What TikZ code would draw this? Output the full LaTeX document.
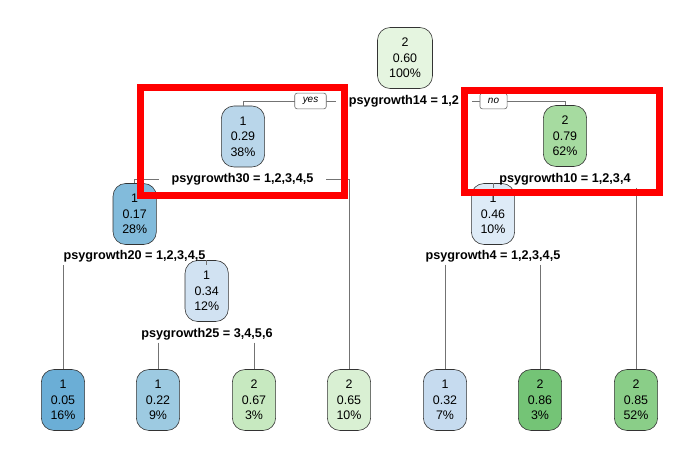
\documentclass[tikz,border=0pt]{standalone}
\usepackage{fontspec}
\setmainfont{Liberation Sans}
\usepackage{xcolor}
\usetikzlibrary{positioning, calc}
\definecolor{pA}{HTML}{6BAED6}
\definecolor{pB}{HTML}{82BBDB}
\definecolor{pC}{HTML}{9DCAE1}
\definecolor{pD}{HTML}{B9D6EA}
\definecolor{pE}{HTML}{C6DBEF}
\definecolor{pF}{HTML}{D1E2F2}
\definecolor{pG}{HTML}{DEEBF7}
\definecolor{gA}{HTML}{E5F5E0}
\definecolor{gB}{HTML}{D9F0D3}
\definecolor{gC}{HTML}{C7E9C0}
\definecolor{gD}{HTML}{A6DBA0}
\definecolor{gE}{HTML}{8ACE88}
\definecolor{gF}{HTML}{74C476}

\begin{document}
\begin{tikzpicture}[x=0.03cm, y=-0.03cm,
  box/.style={draw=black!80, line width=0.5pt, rounded corners=0.38cm, minimum width=1.3cm, minimum height=1.83cm, align=center, inner sep=1pt, font=\fontsize{10.6}{13.4}\selectfont},
  split/.style={font=\fontsize{10.8}{12}\selectfont\bfseries, inner xsep=11pt, inner ysep=2pt},
  conn/.style={draw=black!55, line width=0.6pt},
  yesno/.style={draw=black!60, fill=white, line width=0.5pt, rounded corners=2pt, font=\fontsize{8.5}{9}\selectfont\itshape, inner xsep=0.24cm, minimum height=0.47cm, inner ysep=1pt},
  hilite/.style={draw=red, line width=0.21cm}]
\useasboundingbox (0,0) rectangle (700,459);

% Inner nodes
\node[box, fill=gA, minimum width=1.65cm] (n1) at (405,58) {2\\0.60\\100\%};
\node[box, fill=pD] (n2) at (243,136.5) {1\\0.29\\38\%};
\node[box, fill=gD] (n3) at (565,136) {2\\0.79\\62\%};
\node[box, fill=pB] (n4) at (134.7,214) {1\\0.17\\28\%};
\node[box, fill=pG] (n5) at (493,214) {1\\0.46\\10\%};
\node[box, fill=pF] (n6) at (206.7,291) {1\\0.34\\12\%};

% Leaves
\node[box, fill=pA] (f1) at (63,400) {1\\0.05\\16\%};
\node[box, fill=pC] (f2) at (158,400) {1\\0.22\\9\%};
\node[box, fill=gC] (f3) at (254,400) {2\\0.67\\3\%};
\node[box, fill=gB] (f4) at (349,400) {2\\0.65\\10\%};
\node[box, fill=pE] (f5) at (445,400) {1\\0.32\\7\%};
\node[box, fill=gF] (f6) at (540,400) {2\\0.86\\3\%};
\node[box, fill=gE] (f7) at (636,400) {2\\0.85\\52\%};

% Split labels
\node[split] (s1) at (404,101) {psygrowth14 = 1,2};
\node[split] (s2) at (242.5,179) {psygrowth30 = 1,2,3,4,5};
\node[split] (s3) at (565,179) {psygrowth10 = 1,2,3,4};
\node[split] (s4) at (134.5,256.5) {psygrowth20 = 1,2,3,4,5};
\node[split] (s5) at (493,256) {psygrowth4 = 1,2,3,4,5};
\node[split] (s6) at (207,334) {psygrowth25 = 3,4,5,6};

% Branches
\draw[conn] (s1.west) -| (n2.north);
\draw[conn] (s1.east) -| (n3.north);
\draw[conn] (s2.west) -| (n4.north);
\draw[conn] (s2.east) -| (f4.north);
\draw[conn] (s3.south -| n5.north) -- (n5.north);
\draw[conn] (s3.south -| f7.north) -- (f7.north);
\draw[conn] (s4.south -| f1.north) -- (f1.north);
\draw[conn] (s4.south -| n6.north) -- (n6.north);
\draw[conn] (s5.south -| f5.north) -- (f5.north);
\draw[conn] (s5.south -| f6.north) -- (f6.north);
\draw[conn] (s6.south -| f2.north) -- (f2.north);
\draw[conn] (s6.south -| f3.north) -- (f3.north);

% yes / no tags
\node[yesno] (yes) at (310.5,101) {yes};
\node[yesno] (no) at (493.5,101) {no};

% Highlight frames
\draw[hilite] (140,88) rectangle (344,195.5);
\draw[hilite] (464.5,91) rectangle (659,192.5);
\end{tikzpicture}
\end{document}
